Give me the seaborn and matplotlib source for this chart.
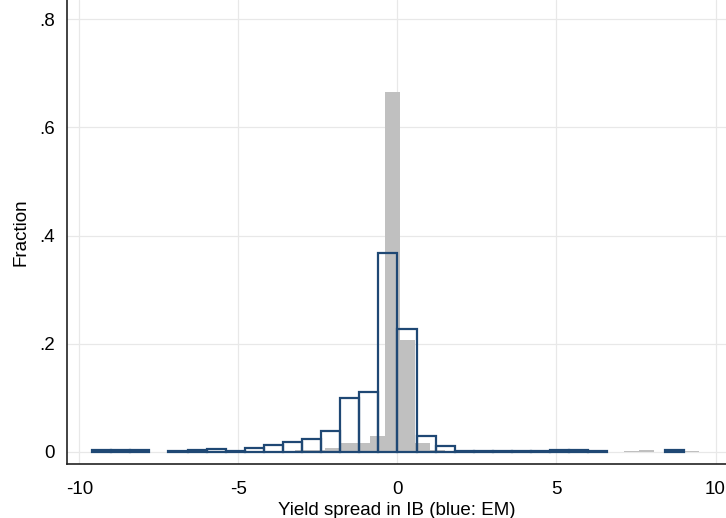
import numpy as np
import pandas as pd
import matplotlib
matplotlib.use("Agg")
import matplotlib.pyplot as plt
import seaborn as sns

# --- histogram bins (fraction per bin) ---
# EM sample (blue outline), bins of width 0.6 starting at -9.6
em_start = -9.6
em_width = 0.6
em_frac = [0.002, 0.002, 0.002, 0.000, 0.001, 0.002, 0.005, 0.001,
           0.006, 0.013, 0.017, 0.023, 0.038, 0.099, 0.111, 0.367,
           0.226, 0.029, 0.010, 0.001, 0.001, 0.001, 0.001, 0.001,
           0.002, 0.002, 0.001, 0.000, 0.000, 0.000, 0.002, 0.000]

# other sample (grey bars), bins of width 0.47 starting at -9.33
oth_start = -9.33
oth_width = 0.47
oth_frac = [0.000, 0.000, 0.000, 0.000, 0.000, 0.000, 0.000, 0.001,
            0.000, 0.000, 0.000, 0.001, 0.001, 0.002, 0.003, 0.007,
            0.016, 0.016, 0.028, 0.666, 0.206, 0.015, 0.003, 0.001,
            0.000, 0.000, 0.000, 0.001, 0.001, 0.000, 0.000, 0.000,
            0.000, 0.000, 0.000, 0.001, 0.002, 0.000, 0.000, 0.001]

x_ticks = [-10, -5, 0, 5, 10]
y_ticks = [0, 0.2, 0.4, 0.6, 0.8]
y_labels = ['0', '.2', '.4', '.6', '.8']

em_edges = em_start + em_width * np.arange(len(em_frac) + 1)
oth_edges = oth_start + oth_width * np.arange(len(oth_frac) + 1)
em_df = pd.DataFrame({'spread': em_edges[:-1] + em_width / 2, 'frac': em_frac})
oth_df = pd.DataFrame({'spread': oth_edges[:-1] + oth_width / 2, 'frac': oth_frac})

sns.set_style("white")
plt.rcParams['font.family'] = ['Liberation Sans', 'DejaVu Sans']
plt.rcParams['axes.unicode_minus'] = False
plt.rcParams['text.color'] = 'black'
plt.rcParams['axes.labelcolor'] = 'black'

fig = plt.figure(figsize=(7.26, 5.18), dpi=100)
ax = fig.add_axes([67 / 726, 54 / 518, 659 / 726, 464 / 518])

# grid first so bars sit on top
for v in x_ticks:
    ax.axvline(v, color='#e8e8e8', lw=0.9, zorder=0)
for v in y_ticks:
    ax.axhline(v, color='#e8e8e8', lw=0.9, zorder=0)

sns.histplot(data=oth_df, x='spread', weights='frac', bins=list(oth_edges),
             stat='count', color='#c0c0c0', alpha=1, linewidth=0, ax=ax)
sns.histplot(data=em_df, x='spread', weights='frac', bins=list(em_edges),
             stat='count', fill=False, color='#1f4874', linewidth=1.6, ax=ax)

# empty bins are not drawn at all
for p in ax.patches:
    if p.get_height() == 0:
        p.set_visible(False)

ax.set_xlim(-10.39, 10.33)
ax.set_ylim(-0.0230, 0.836)
ax.set_xticks(x_ticks)
ax.set_yticks(y_ticks)
ax.set_yticklabels(y_labels)
ax.tick_params(axis='both', direction='out', length=6.5, width=1,
               color='#222222', labelsize=13.5, labelcolor='black')
ax.tick_params(axis='x', pad=5.5)
ax.tick_params(axis='y', pad=2)

for s in ['top', 'right']:
    ax.spines[s].set_visible(False)
for s in ['left', 'bottom']:
    ax.spines[s].set_color('#222222')
    ax.spines[s].set_linewidth(1.2)

ax.set_xlabel('Yield spread in IB (blue: EM)', fontsize=13.5, labelpad=3)
ax.set_ylabel('Fraction', fontsize=13.5, labelpad=7)

fig.savefig('out.png', dpi=100)
